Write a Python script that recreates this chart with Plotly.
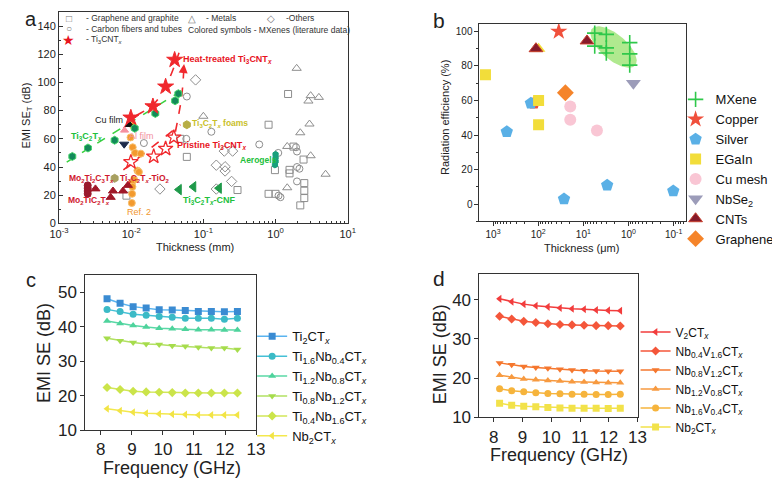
import numpy as np
import plotly.graph_objects as go

W, H = 780, 482
FONT = "Liberation Sans, Arial, Helvetica, sans-serif"

# ---------------- Panel a : EMI SE vs thickness (mm) ----------------
heat_x = [0.0099, 0.020, 0.030, 0.040]
heat_y = [75, 83, 97, 116]
prist_x = [0.0099, 0.0205, 0.030, 0.039]
prist_y = [43.5, 47.5, 53, 61]
ti3c2_x = [0.00153, 0.00252, 0.0059, 0.0112, 0.0216, 0.0406, 0.045]
ti3c2_y = [47.5, 53.5, 59, 67.5, 78, 87, 92]

graph_x = [0.0086, 0.048, 0.059, 0.297, 0.8, 0.8, 1.0, 0.98, 1.49, 1.56, 1.56, 1.77, 2.44, 2.5, 2.5, 2.5, 2.2]
graph_y = [19.7, 60, 47.2, 23.7, 70, 21, 21, 37.8, 91.8, 38, 35.5, 54.5, 45.3, 28.6, 23.2, 18, 12.8]
carbon_x = [0.059, 0.015, 0.058, 0.129, 0.594, 1.09, 1.1, 1.17, 1.92, 1.98, 1.98, 2.14, 1.98]
carbon_y = [90, 57, 60, 65, 56, 50, 19.7, 18.6, 54, 51, 40, 38.8, 29.8]
metal_x = [0.1, 1.45, 1.96, 2.85, 3.06, 3.98, 2.95, 2.2, 3.06, 4.93, 1.45]
metal_y = [76, 54.6, 110, 86.8, 90.6, 89.4, 70.5, 64.3, 48, 34.9, 25.3]
other_x = [0.078, 0.025, 0.151, 0.151, 0.2, 0.2, 0.246, 0.195, 0.254]
other_y = [101.8, 24.4, 41.3, 24.4, 40.2, 37.2, 29.8, 51.3, 51.3]

cufilm_x, cufilm_y = [0.0095], [70]
alfilm_x, alfilm_y = [0.0081], [66]
navy_x, navy_y = [0.0080], [56.2]
ref2_x = [0.0098, 0.0105, 0.0113, 0.0136, 0.0122, 0.0128, 0.011, 0.0102, 0.0104, 0.0103, 0.0102, 0.0106]
ref2_y = [61, 54, 50, 49.5, 37.5, 36.5, 31, 28.5, 26, 21, 14.5, 69.5]
mo2ti2_x = [0.0025, 0.0025, 0.0025, 0.0025]
mo2ti2_y = [27, 25, 23, 21]
mo2tic2_x = [0.0032, 0.0052, 0.0056, 0.0077, 0.009]
mo2tic2_y = [24.5, 18.5, 23, 23, 27]
tio2_x, tio2_y = [0.0059], [32]
cnf_x = [0.046, 0.073, 0.165]
cnf_y = [24, 26, 25]
aero_x = [1.0, 1.0, 1.0, 0.98]
aero_y = [49, 46.5, 44, 41.5]
foam_x, foam_y = [0.059], [70]

ti3c2_fit_x, ti3c2_fit_y = [0.00128, 0.055], [43.5, 95.5]
heat_fit_x, heat_fit_y = [0.0079, 0.010, 0.020, 0.030, 0.046], [67.5, 74, 84, 97, 121]
prist_fit_x, prist_fit_y = [0.0078, 0.048], [38, 70]
arrow_x, arrow_y = [0.041, 0.050, 0.0537], [65, 90, 110]

a_xticks = [1e-3, 1e-2, 1e-1, 1e0, 1e1]
a_xticklabels = ["10<sup>-3</sup>", "10<sup>-2</sup>", "10<sup>-1</sup>", "10<sup>0</sup>", "10<sup>1</sup>"]

# ---------------- Panel b : radiation efficiency ----------------
mxene_x = [5.6, 3.1, 5.6, 3.1, 3.1, 0.94, 0.94, 0.94]
mxene_y = [99, 98.3, 91.5, 90.5, 87.5, 93.5, 87, 80.5]
copper_x, copper_y = [35], [100]
silver_x = [496, 145, 26.8, 2.97, 0.102]
silver_y = [42, 58.5, 3, 11, 7.7]
egain_x = [1470, 98, 98]
egain_y = [75, 60, 46]
cumesh_x = [19.5, 19.5, 5.0]
cumesh_y = [56.6, 48.9, 42.6]
nbse2_x, nbse2_y = [0.78], [70]
cnt_x = [8.3, 112]
cnt_y = [94.5, 90]
graphene_x, graphene_y = [25], [64.5]
b_xticks = [1e3, 1e2, 1e1, 1e0, 1e-1]
b_xticklabels = ["10<sup>3</sup>", "10<sup>2</sup>", "10<sup>1</sup>", "10<sup>0</sup>", "10<sup>-1</sup>"]

# ---------------- Panel c : Ti-Nb MXenes ----------------
freq = [8.2, 8.62, 9.04, 9.46, 9.88, 10.3, 10.72, 11.14, 11.56, 11.98, 12.4]
c_names = ["Ti<sub>2</sub>CT<sub><i>x</i></sub>",
           "Ti<sub>1.6</sub>Nb<sub>0.4</sub>CT<sub><i>x</i></sub>",
           "Ti<sub>1.2</sub>Nb<sub>0.8</sub>CT<sub><i>x</i></sub>",
           "Ti<sub>0.8</sub>Nb<sub>1.2</sub>CT<sub><i>x</i></sub>",
           "Ti<sub>0.4</sub>Nb<sub>1.6</sub>CT<sub><i>x</i></sub>",
           "Nb<sub>2</sub>CT<sub><i>x</i></sub>"]
c_ti2 = [48.2, 46.9, 45.9, 45.5, 45.0, 44.9, 44.8, 44.5, 44.5, 44.4, 44.5]
c_ti16 = [45.1, 44.5, 43.7, 43.4, 43.0, 42.8, 42.5, 42.5, 42.5, 42.2, 42.5]
c_ti12 = [41.7, 41.0, 40.4, 40.0, 39.6, 39.5, 39.3, 39.2, 39.2, 39.1, 39.1]
c_ti08 = [36.7, 36.0, 35.5, 35.0, 34.9, 34.5, 34.4, 34.1, 33.9, 33.9, 33.4]
c_ti04 = [22.4, 21.8, 21.3, 21.1, 21.0, 20.9, 20.8, 20.8, 20.8, 20.8, 20.8]
c_nb2 = [16.2, 15.6, 15.2, 14.9, 14.7, 14.6, 14.5, 14.4, 14.4, 14.4, 14.4]

# ---------------- Panel d : Nb-V MXenes ----------------
d_names = ["V<sub>2</sub>CT<sub><i>x</i></sub>",
           "Nb<sub>0.4</sub>V<sub>1.6</sub>CT<sub><i>x</i></sub>",
           "Nb<sub>0.8</sub>V<sub>1.2</sub>CT<sub><i>x</i></sub>",
           "Nb<sub>1.2</sub>V<sub>0.8</sub>CT<sub><i>x</i></sub>",
           "Nb<sub>1.6</sub>V<sub>0.4</sub>CT<sub><i>x</i></sub>",
           "Nb<sub>2</sub>CT<sub><i>x</i></sub>"]
d_v2 = [40.25, 39.5, 38.9, 38.5, 38.2, 37.9, 37.7, 37.6, 37.4, 37.3, 37.2]
d_nb04 = [35.8, 35.1, 34.5, 34.2, 33.9, 33.7, 33.6, 33.5, 33.4, 33.4, 33.3]
d_nb08 = [23.9, 23.4, 23.0, 22.75, 22.5, 22.3, 22.1, 21.9, 21.8, 21.75, 21.75]
d_nb12 = [20.75, 20.25, 19.8, 19.6, 19.4, 19.25, 19.1, 19.0, 18.9, 18.8, 18.8]
d_nb16 = [17.3, 16.8, 16.5, 16.25, 16.1, 16.0, 15.9, 15.9, 15.8, 15.8, 15.9]
d_nb2 = [13.6, 13.1, 12.8, 12.7, 12.5, 12.4, 12.3, 12.3, 12.3, 12.25, 12.3]

fig = go.Figure()

# ===== Panel a traces =====
def sc(x, y, sym, color, size=7, lw=1, lc=None, ax="x", ay="y", **kw):
    return go.Scatter(x=x, y=y, mode="markers", xaxis=ax, yaxis=ay, showlegend=False,
                      marker=dict(symbol=sym, color=color, size=size,
                                  line=dict(width=lw, color=lc if lc else color)), **kw)

GRAY = "#8d8d8d"
fig.add_trace(sc(graph_x, graph_y, "square-open", GRAY))
fig.add_trace(sc(carbon_x, carbon_y, "circle-open", GRAY))
fig.add_trace(sc(metal_x, metal_y, "triangle-up-open", GRAY, size=8))
fig.add_trace(sc(other_x, other_y, "diamond-open", GRAY, size=8))

dash_line = lambda x, y, c, shape="linear": go.Scatter(x=x, y=y, mode="lines", xaxis="x", yaxis="y",
                                                       showlegend=False, line=dict(color=c, width=1.6, dash="dash", shape=shape))
fig.add_trace(dash_line(ti3c2_fit_x, ti3c2_fit_y, "#3ad13f"))
fig.add_trace(dash_line(heat_fit_x, heat_fit_y, "#f0282d", "spline"))
fig.add_trace(dash_line(prist_fit_x, prist_fit_y, "#f0282d"))
fig.add_trace(dash_line(arrow_x, arrow_y, "#f0282d", "spline"))

fig.add_trace(sc(ref2_x, ref2_y, "circle", "#f39a2e", size=7, lc="#f7c070"))
fig.add_trace(sc(cufilm_x, cufilm_y, "triangle-up", "#111111", size=7))
fig.add_trace(sc(alfilm_x, alfilm_y, "triangle-up", "#f590a0", size=7))
fig.add_trace(sc(navy_x, navy_y, "triangle-down", "#1d2b4a", size=8))
fig.add_trace(sc(mo2ti2_x, mo2ti2_y, "circle", "#9a1a2c", size=7))
fig.add_trace(sc(mo2tic2_x, mo2tic2_y, "triangle-up", "#a01828", size=8))
fig.add_trace(sc(tio2_x, tio2_y, "hexagon", "#a8a060", size=8))
fig.add_trace(sc(cnf_x, cnf_y, "triangle-left", "#1f9a4a", size=9))
fig.add_trace(sc(aero_x, aero_y, "hexagon", "#17a07c", size=6))
fig.add_trace(sc(foam_x, foam_y, "hexagon", "#b7ad45", size=8))
fig.add_trace(sc(ti3c2_x, ti3c2_y, "hexagon", "#138a5a", size=8, lc="#43d468"))
fig.add_trace(sc(prist_x, prist_y, "star-open", "#f0282d", size=11, lw=1.3))
fig.add_trace(sc(heat_x, heat_y, "star", "#f0282d", size=12))

# ===== Panel b traces =====
t = np.linspace(0, 2 * np.pi, 120)
dec_px = 212 / (3.3 + 1.28)
pct_px = 202 / 114.5
ea, eb, eth = 29.0, 13.0, np.radians(40)
dxp = ea * np.cos(t) * np.cos(eth) - eb * np.sin(t) * np.sin(eth)
dyp = ea * np.cos(t) * np.sin(eth) + eb * np.sin(t) * np.cos(eth)
ell_x = 10 ** (0.33 - dxp / dec_px)
ell_y = 91.0 - dyp / pct_px
fig.add_trace(go.Scatter(x=ell_x, y=ell_y, mode="lines", fill="toself", xaxis="x2", yaxis="y2",
                         fillcolor="rgba(150,225,105,0.75)", line=dict(width=0), showlegend=False,
                         hoverinfo="skip"))


def bsc(x, y, name, sym, color, size, lw=0, lc=None, show=True):
    return go.Scatter(x=x, y=y, mode="markers", name=name, xaxis="x2", yaxis="y2",
                      legend="legend2", showlegend=show,
                      marker=dict(symbol=sym, color=color, size=size,
                                  line=dict(width=lw, color=lc if lc else color)))

# composite half markers (drawn underneath)
fig.add_trace(bsc([98], [90], "EGaIn-CNT", "triangle-up", "#f2dd3a", 12, show=False))
fig.add_trace(bsc([125], [58.5], "Cu-Ag", "pentagon", "#f0503c", 13, show=False))

fig.add_trace(bsc(mxene_x, mxene_y, "MXene", "cross-thin", "#2fc84a", 11, lw=1.6, lc="#2fc84a"))
fig.add_trace(bsc(copper_x, copper_y, "Copper", "star", "#f0503c", 13))
fig.add_trace(bsc(silver_x, silver_y, "Silver", "pentagon", "#5ab0e6", 13))
fig.add_trace(bsc(egain_x, egain_y, "EGaIn", "square", "#f2dd3a", 11))
fig.add_trace(bsc(cumesh_x, cumesh_y, "Cu mesh", "circle", "#f9c6d4", 12))
fig.add_trace(bsc(nbse2_x, nbse2_y, "NbSe<sub>2</sub>", "triangle-down", "#9c9cb9", 13))
fig.add_trace(bsc(cnt_x, cnt_y, "CNTs", "triangle-up", "#861a2a", 12, lw=1, lc="#c8402e"))
fig.add_trace(bsc(graphene_x, graphene_y, "Graphene", "diamond", "#f5842a", 13))

# ===== Panel c traces =====
c_series = [c_ti2, c_ti16, c_ti12, c_ti08, c_ti04, c_nb2]
c_line = ["#5ab4ef", "#45c0d6", "#5ad8a6", "#b2e062", "#d2e658", "#f3e84e"]
c_mark = ["#3a8bd2", "#3bbac6", "#4ed39c", "#a6dc4c", "#cbe44a", "#f2e445"]
c_sym = ["square", "circle", "triangle-up", "triangle-down", "diamond", "triangle-left"]
for nm, ys, lc, mc, sy in zip(c_names, c_series, c_line, c_mark, c_sym):
    fig.add_trace(go.Scatter(x=freq, y=ys, name=nm, mode="lines+markers", xaxis="x3", yaxis="y3",
                             legend="legend3", line=dict(color=lc, width=1.5),
                             marker=dict(symbol=sy, size=7, color=mc)))

# ===== Panel d traces =====
d_series = [d_v2, d_nb04, d_nb08, d_nb12, d_nb16, d_nb2]
d_col = ["#f23c3c", "#f4563a", "#f5772e", "#f79a40", "#f6b43c", "#f2e24a"]
d_sym = ["triangle-left", "diamond", "triangle-down", "triangle-up", "circle", "square"]
for nm, ys, cc, sy in zip(d_names, d_series, d_col, d_sym):
    fig.add_trace(go.Scatter(x=freq, y=ys, name=nm, mode="lines+markers", xaxis="x4", yaxis="y4",
                             legend="legend4", line=dict(color=cc, width=1.5),
                             marker=dict(symbol=sy, size=7, color=cc)))

# ===== axes =====
def dx(a, b):
    return [a / W, b / W]


def dy(top, bot):
    return [1 - bot / H, 1 - top / H]


def minor_log(lo, hi):
    return [k * 10.0 ** n for n in range(lo, hi) for k in range(2, 10)]


AX = "#333333"
common = dict(showgrid=False, zeroline=False, showline=True, linecolor=AX, linewidth=1, mirror=True,
              tickcolor=AX)
fig.update_layout(
    xaxis=dict(common, domain=dx(42, 338), anchor="y", type="log", range=[-3, 1],
               tickvals=a_xticks, ticktext=a_xticklabels, ticks="inside", ticklen=4,
               tickfont=dict(size=11, color="#222"),
               minor=dict(tickvals=minor_log(-3, 1), ticks="inside", ticklen=2, tickcolor=AX)),
    yaxis=dict(common, domain=dy(4, 220), anchor="x", range=[0, 150], dtick=20,
               ticks="inside", ticklen=4, tickfont=dict(size=11, color="#222"),
               minor=dict(dtick=10, ticks="inside", ticklen=2, tickcolor=AX)),
    xaxis2=dict(common, domain=dx(473, 685), anchor="y2", type="log", range=[3.3, -1.28],
                tickvals=b_xticks, ticktext=b_xticklabels, ticks="outside", ticklen=4,
                tickfont=dict(size=10, color="#222"),
                minor=dict(tickvals=minor_log(-2, 4), ticks="outside", ticklen=2, tickcolor=AX)),
    yaxis2=dict(common, domain=dy(16, 218), anchor="x2", range=[-10, 104.5], dtick=20,
                ticks="outside", ticklen=4, tickfont=dict(size=10, color="#222"),
                minor=dict(dtick=10, ticks="outside", ticklen=2, tickcolor=AX)),
    xaxis3=dict(common, domain=dx(69, 244), anchor="y3", range=[7.5, 13], dtick=1,
                ticks="outside", ticklen=4, tickfont=dict(size=17, color="#222")),
    yaxis3=dict(common, domain=dy(273, 431), anchor="x3", range=[10, 55], dtick=10,
                ticks="outside", ticklen=4, tickfont=dict(size=17, color="#222")),
    xaxis4=dict(common, domain=dx(473, 635), anchor="y4", range=[7.5, 13], dtick=1,
                ticks="outside", ticklen=4, tickfont=dict(size=17, color="#222")),
    yaxis4=dict(common, domain=dy(272, 418), anchor="x4", range=[10, 46.5], dtick=10,
                ticks="outside", ticklen=4, tickfont=dict(size=17, color="#222")),
)

leg_common = dict(bgcolor="rgba(0,0,0,0)", borderwidth=0, xanchor="left", yanchor="top",
                  tracegroupgap=0, itemwidth=30)
fig.update_layout(
    legend2=dict(leg_common, x=674 / W, y=1 - 78 / H, font=dict(size=13, color="#111", family=FONT)),
    legend3=dict(leg_common, x=240 / W, y=1 - 320 / H, font=dict(size=13, color="#111", family=FONT)),
    legend4=dict(leg_common, x=633 / W, y=1 - 316 / H, font=dict(size=12, color="#111", family=FONT)),
)

# ===== annotations =====
ann = []


def A(x, y, text, size=9, color="#222", xanchor="left", ref=("x", "y"), **kw):
    ann.append(dict(x=x, y=y, text=text, xref=ref[0], yref=ref[1], showarrow=False,
                    xanchor=xanchor, yanchor="middle", font=dict(size=size, color=color, family=FONT), **kw))


L = np.log10
SUBX = "T<sub><i>x</i></sub>"
RED = "#e8141e"
GREEN = "#22bf3c"
DRED = "#d0182e"
A(L(0.0485), 116.4, f"<b>Heat-treated Ti<sub>3</sub>CN{SUBX}</b>", 9, RED)
A(L(0.0083), 73.2, "Cu film", 9, "#222", xanchor="right")
A(L(0.066), 71.1, f"<b>Ti<sub>3</sub>C<sub>2</sub>{SUBX} foams</b>", 8.5, "#c9bf2a")
A(L(0.00137), 61.3, f"<b>Ti<sub>3</sub>C<sub>2</sub>{SUBX}</b>", 9, GREEN)
A(L(0.0088), 62, "Al film", 9, "#f28ea0")
A(L(0.0405), 55, f"<b>Pristine Ti<sub>3</sub>CN{SUBX}</b>", 9, RED)
A(L(0.305), 45.3, "<b>Aerogels</b>", 8.5, GREEN)
A(L(0.00131), 31.9, f"<b>Mo<sub>2</sub>Ti<sub>2</sub>C<sub>3</sub>{SUBX}</b>", 8.5, DRED)
A(L(0.0066), 32.1, f"<b>Ti<sub>3</sub>C<sub>2</sub>{SUBX}-TiO<sub>2</sub></b>", 8.5, DRED)
A(L(0.00125), 16, f"<b>Mo<sub>2</sub>TiC<sub>2</sub>{SUBX}</b>", 8.5, DRED)
A(L(0.049), 16, f"<b>Ti<sub>3</sub>C<sub>2</sub>{SUBX}-CNF</b>", 9, GREEN)
A(L(0.0081), 8.4, "Ref. 2", 9, "#f0962e")
# panel a key
A(L(0.00137), 145.6, "□", 10, "#777", xanchor="center")
A(L(0.00137), 138, "○", 10, "#777", xanchor="center")
A(L(0.00137), 130.2, "★", 14, RED, xanchor="center")
A(L(0.0022), 145.6, "- Graphene and graphite", 8.5, "#333")
A(L(0.0022), 138, "- Carbon fibers and tubes", 8.5, "#333")
A(L(0.0022), 130.2, f"- Ti<sub>3</sub>CN{SUBX}", 8.5, "#333")
A(L(0.0689), 145.6, "△", 10, "#777", xanchor="center")
A(L(0.103), 145.6, "- Metals", 8.5, "#333")
A(L(0.856), 145.6, "◇", 10, "#777", xanchor="center")
A(L(1.3), 145.6, "-Others", 8.5, "#333")
A(L(0.058), 137.2, "Colored symbols - MXenes (literature data)", 8.5, "#333")
# arrow head
ann.append(dict(x=L(0.0540), y=113, xref="x", yref="y", ax=-1, ay=10, axref="pixel", ayref="pixel",
                text="", showarrow=True, arrowhead=2, arrowsize=1.2, arrowwidth=1.5, arrowcolor="#f0282d"))


def T(px, py, text, size, angle=0):
    ann.append(dict(x=px / W, y=1 - py / H, text=text, xref="paper", yref="paper", showarrow=False,
                    xanchor="center", yanchor="middle", textangle=angle,
                    font=dict(size=size, color="#222", family=FONT)))

T(9, 110, "EMI SE<sub>T</sub> (dB)", 11, -90)
T(181, 244, "Thickness (mm)", 11)
T(437, 112, "Radiation efficiency (%)", 11, -90)
T(578, 245, "Thickness (μm)", 11)
T(26, 352, "EMI SE (dB)", 18, -90)
T(158, 470, "Frequency (GHz)", 18)
T(432, 353, "EMI SE (dB)", 18, -90)
T(555, 456, "Frequency (GHz)", 18)
# panel letters
T(13, 11, "a", 20)
T(431, 13, "b", 21)
T(13, 278, "c", 20)
T(431, 276, "d", 21)

fig.update_layout(annotations=ann, width=W, height=H, margin=dict(l=0, r=0, t=0, b=0),
                  paper_bgcolor="white", plot_bgcolor="white",
                  font=dict(family=FONT, color="#222"), showlegend=True)

fig.write_html("out.html")
